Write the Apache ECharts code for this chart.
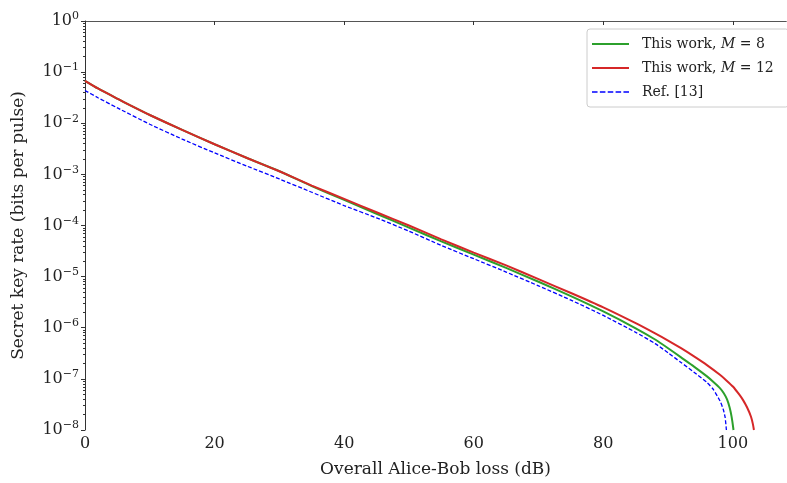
<!DOCTYPE html>
<html><head><meta charset="utf-8">
<script src="https://cdn.jsdelivr.net/npm/echarts@6/dist/echarts.min.js"></script>
<style>html,body{margin:0;padding:0;background:#fff}#c{width:787px;height:483px}</style>
</head><body><div id="c"></div>
<script>
// Loss (dB) and secret key rate (bits per pulse)
const redX   = [0,2,5,7,10,15,20,25,30,35,40,45,50,55,60,65,70,75,80,85,88,90,92,94,96,98,99,100,101,101.6,102.2,102.8,103.1,103.25];
const redY   = [6.76e-2,4.79e-2,3.02e-2,2.24e-2,1.45e-2,7.41e-3,3.89e-3,2.09e-3,1.15e-3,6.03e-4,3.31e-4,1.82e-4,1.00e-4,5.37e-5,2.95e-5,1.66e-5,8.91e-6,4.79e-6,2.51e-6,1.23e-6,7.76e-7,5.62e-7,3.98e-7,2.75e-7,1.86e-7,1.20e-7,9.33e-8,7.08e-8,4.90e-8,3.80e-8,2.75e-8,1.82e-8,1.29e-8,1.0e-8];
const greenX = [0,2,5,7,10,15,20,25,30,35,40,45,50,55,60,65,70,75,80,85,88,90,92,94,96,97,98,98.6,99.1,99.5,99.8,100.1];
const greenY = [6.76e-2,4.79e-2,3.02e-2,2.24e-2,1.45e-2,7.41e-3,3.89e-3,2.09e-3,1.15e-3,5.89e-4,3.16e-4,1.70e-4,9.12e-5,4.90e-5,2.69e-5,1.48e-5,7.94e-6,4.17e-6,2.09e-6,9.77e-7,5.89e-7,3.98e-7,2.63e-7,1.74e-7,1.12e-7,8.71e-8,6.61e-8,5.25e-8,3.98e-8,2.75e-8,1.82e-8,1.0e-8];
const blueX  = [0,2,5,10,15,20,25,30,35,40,45,50,55,60,65,70,75,80,85,88,90,92,94,96,97,98,98.5,98.8,99];
const blueY  = [4.37e-2,3.16e-2,2.00e-2,9.55e-3,4.90e-3,2.63e-3,1.45e-3,8.13e-4,4.47e-4,2.45e-4,1.41e-4,7.76e-5,4.07e-5,2.24e-5,1.23e-5,6.61e-6,3.47e-6,1.74e-6,8.13e-7,4.90e-7,3.24e-7,2.09e-7,1.35e-7,8.51e-8,6.17e-8,3.72e-8,2.57e-8,1.78e-8,1.0e-8];
const xTicks = [0,20,40,60,80,100];
const names  = ['This work, {i|M} = 8','This work, {i|M} = 12','Ref. [13]'];

const FONT = 'DejaVu Serif';
const pairs = (xs, ys) => xs.map((x, i) => [x, ys[i]]);
const minorTicks = [];
for (let e = -8; e < 0; e++) for (let k = 2; k <= 9; k++) minorTicks.push(e + Math.log10(k));
const solidIcon = 'path://M0,0H37V2H0Z';
const dashIcon = 'path://M0,0H5.5V1.4H0Z M7.8,0H13.3V1.4H7.8Z M15.6,0H21.1V1.4H15.6Z M23.4,0H28.9V1.4H23.4Z M31.2,0H36.7V1.4H31.2Z';

const chart = echarts.init(document.getElementById('c'));
chart.setOption({
  animation: false,
  backgroundColor: '#fff',
  grid: {left: 85, right: 1, top: 21, bottom: 51, containLabel: false},
  legend: {
    orient: 'vertical', left: 587, top: 29,
    padding: [8, 15, 8, 5], itemGap: 10, itemWidth: 37, itemHeight: 14,
    backgroundColor: '#fff', borderColor: '#ccc', borderWidth: 1, borderRadius: 3,
    data: [{name: names[0], icon: solidIcon}, {name: names[1], icon: solidIcon}, {name: names[2], icon: dashIcon}],
    textStyle: {fontFamily: FONT, fontSize: 14, color: '#222', padding: [0, 0, 0, 8],
      rich: {i: {fontFamily: FONT, fontStyle: 'italic', fontSize: 14, color: '#222'}}}
  },
  xAxis: [{
    type: 'value', min: 0, max: 108.2,
    name: 'Overall Alice-Bob loss (dB)', nameLocation: 'middle', nameGap: 31,
    nameTextStyle: {fontFamily: FONT, fontSize: 17, color: '#222'},
    axisLine: {lineStyle: {color: '#333', width: 1}},
    axisTick: {length: 4, lineStyle: {color: '#333'}, customValues: xTicks},
    axisLabel: {fontFamily: FONT, fontSize: 16, color: '#222', margin: 6, customValues: xTicks},
    splitLine: {show: false}
  }, {
    type: 'value', position: 'top', min: 0, max: 108.2,
    axisLine: {show: true, onZero: false, lineStyle: {color: '#555', width: 1}},
    axisTick: {show: false}, axisLabel: {show: false}, splitLine: {show: false}
  }],
  yAxis: [{
    type: 'log', logBase: 10, min: 1e-8, max: 1,
    name: 'Secret key rate (bits per pulse)', nameLocation: 'middle', nameGap: 58,
    nameTextStyle: {fontFamily: FONT, fontSize: 17, color: '#222'},
    axisLine: {show: true, lineStyle: {color: '#333', width: 1}},
    axisTick: {length: 4, lineStyle: {color: '#333'}},
    axisLabel: {
      margin: 6,
      formatter: v => {
        const e = Math.round(Math.log10(v));
        return '{b|10}{s|' + (e < 0 ? '\u2212' + (-e) : e) + '}';
      },
      rich: {
        b: {fontFamily: FONT, fontSize: 16, color: '#222'},
        s: {fontFamily: FONT, fontSize: 11, color: '#222', verticalAlign: 'bottom', padding: [0, 0, 9, 0]}
      }
    },
    splitLine: {show: false}
  }, {
    type: 'value', min: -8, max: 0, position: 'left',
    axisLine: {show: false},
    axisTick: {show: true, length: 2, lineStyle: {color: '#333'}, customValues: minorTicks},
    axisLabel: {show: false}, splitLine: {show: false}
  }],
  series: [
    {name: names[0], type: 'line', data: pairs(greenX, greenY), symbol: 'none', smooth: 0.2,
     lineStyle: {color: '#2ca02c', width: 2}, itemStyle: {color: '#2ca02c'}, z: 2},
    {name: names[1], type: 'line', data: pairs(redX, redY), symbol: 'none', smooth: 0.2,
     lineStyle: {color: '#d62728', width: 2}, itemStyle: {color: '#d62728'}, z: 3},
    {name: names[2], type: 'line', data: pairs(blueX, blueY), symbol: 'none', smooth: 0.2,
     lineStyle: {color: '#0000ff', width: 1.3, type: [4, 2]}, itemStyle: {color: '#0000ff'}, z: 4}
  ]
});
</script></body></html>
